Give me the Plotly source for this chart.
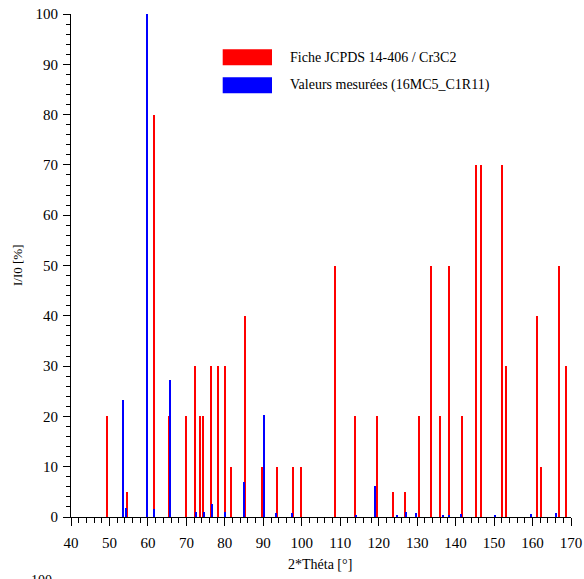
import plotly.graph_objects as go

# JCPDS 14-406 / Cr3C2 reference lines
red_x = [49.4, 53.6, 54.7, 59.8, 61.7, 65.6, 70.0, 72.2, 73.5, 74.4, 76.3, 78.3, 80.0,
         81.7, 85.2, 89.8, 93.6, 97.7, 99.8, 108.6, 113.8, 119.5, 123.7, 126.8, 130.4,
         133.5, 135.9, 138.3, 141.7, 145.2, 146.7, 152.1, 153.2, 161.1, 162.3, 166.8, 168.7]
red_y = [20, 20, 5, 100, 80, 20, 20, 30, 20, 20, 30, 30, 30,
         10, 40, 10, 10, 10, 10, 50, 20, 20, 5, 5, 20,
         50, 20, 50, 20, 70, 70, 70, 30, 40, 10, 50, 30]

# Measured values (16MC5_C1R11)
blue_x = [53.65, 54.4, 59.8, 61.5, 65.8, 72.5, 74.5, 76.8, 80.0, 84.9, 90.1, 93.2,
          97.6, 114.1, 119.1, 124.7, 127.0, 129.8, 136.8, 138.2, 141.5, 150.2, 159.7, 166.1]
blue_y = [23.2, 1.7, 100, 1.5, 27.2, 1.0, 0.9, 2.6, 0.9, 7.0, 20.3, 0.8,
          0.7, 0.4, 6.2, 0.4, 1.0, 0.7, 0.4, 0.4, 0.5, 0.3, 0.6, 0.8]

legend_names = ["Fiche JCPDS 14-406 / Cr3C2", "Valeurs mesurées (16MC5_C1R11)"]
x_title = "2*Théta [°]"
y_title = "I/I0 [%]"

FONT = "Liberation Serif"

fig = go.Figure()
fig.add_trace(go.Bar(x=red_x, y=red_y, width=0.3, marker=dict(color="#FF0000", line=dict(width=0)),
                     name=legend_names[0], showlegend=False))
fig.add_trace(go.Bar(x=blue_x, y=blue_y, width=0.3, marker=dict(color="#0000FF", line=dict(width=0)),
                     name=legend_names[1], showlegend=False))

W, H = 584, 579
L, R, T, B = 71, 13, 14, 62
pw, ph = W - L - R, H - T - B

def px2paper(px, py):
    return (px - L) / pw, (H - B - py) / ph

# manual legend (rectangles + text)
for i, (col, yc) in enumerate([("#FF0000", 57.3), ("#0000FF", 85.3)]):
    x0, y0 = px2paper(222.7, yc - 8)
    x1, y1 = px2paper(272, yc + 8)
    fig.add_shape(type="rect", xref="paper", yref="paper", x0=x0, x1=x1, y0=y1, y1=y0,
                  fillcolor=col, line=dict(width=0))
    tx, ty = px2paper(288, yc)
    fig.add_annotation(xref="paper", yref="paper", x=tx, y=ty, xanchor="left", yanchor="middle",
                       text=legend_names[i], showarrow=False, font=dict(family=FONT, size=14, color="black"))

# axis titles
ax, ay = px2paper(320, 565)
fig.add_annotation(xref="paper", yref="paper", x=ax, y=ay, xanchor="center", yanchor="middle",
                   text=x_title, showarrow=False, font=dict(family=FONT, size=14, color="black"))
bx, by = px2paper(17, 265)
fig.add_annotation(xref="paper", yref="paper", x=bx, y=by, xanchor="center", yanchor="middle",
                   text=y_title, textangle=-90, showarrow=False, font=dict(family=FONT, size=13, color="black"))

# stray label at the bottom-left edge (partly outside the page in the reference)
sx, sy = px2paper(41, 571)
fig.add_annotation(xref="paper", yref="paper", x=sx, y=sy, xanchor="center", yanchor="top",
                   text="100", showarrow=False, font=dict(family=FONT, size=14, color="black"))

fig.update_layout(
    width=W, height=H,
    margin=dict(l=L, r=R, t=T, b=B, pad=0, autoexpand=False),
    paper_bgcolor="white", plot_bgcolor="white",
    barmode="overlay", bargap=0,
    font=dict(family=FONT, size=15, color="black"),
    xaxis=dict(range=[40, 170], dtick=10, tick0=40, showgrid=False, zeroline=False, automargin=False,
               showline=True, linecolor="black", linewidth=1.2,
               ticks="outside", ticklen=8, tickwidth=1.2, tickcolor="black",
               minor=dict(dtick=2, tick0=40, ticks="outside", ticklen=4.5, tickwidth=1, tickcolor="black", showgrid=False),
               tickfont=dict(family=FONT, size=15), ticklabelstandoff=4),
    yaxis=dict(range=[0, 100], dtick=10, tick0=0, showgrid=False, zeroline=False, automargin=False,
               showline=True, linecolor="black", linewidth=1.2,
               ticks="outside", ticklen=7, tickwidth=1.2, tickcolor="black",
               minor=dict(dtick=2, tick0=0, ticks="outside", ticklen=4, tickwidth=1, tickcolor="black", showgrid=False),
               tickfont=dict(family=FONT, size=15), ticklabelstandoff=2),
)

fig.write_html("out.html")
